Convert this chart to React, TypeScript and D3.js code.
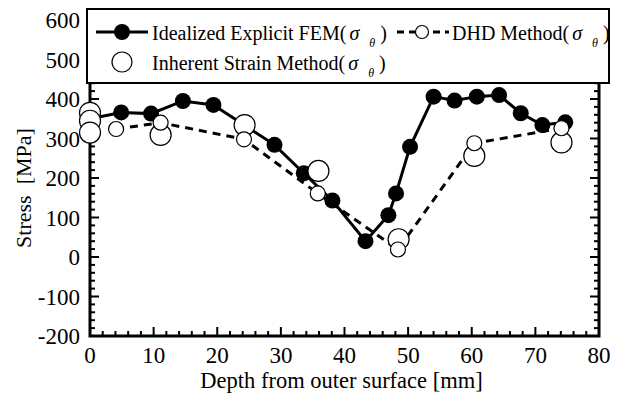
import * as d3 from 'd3';

// Idealized Explicit FEM (filled circles, solid line)
const femDepth = [0, 4.9, 9.6, 14.6, 19.4, 29.0, 33.6, 38.1, 43.3, 46.9, 48.1, 50.3, 54.0, 57.3, 60.8, 64.3, 67.7, 71.1, 74.7];
const femStress = [350, 366, 363, 395, 385, 284, 212, 143, 40, 106, 161, 279, 406, 396, 406, 410, 364, 334, 341];

// DHD method (small open circles, dashed line)
const dhdDepth = [4.1, 11.1, 24.2, 35.8, 48.4, 60.4, 74.1];
const dhdStress = [324, 340, 298, 161, 19, 288, 326];

// Inherent strain method (large open circles)
const isDepth = [0, 0, 0, 11.1, 24.3, 35.9, 48.5, 60.4, 74.1];
const isStress = [365, 345, 315, 309, 334, 218, 45, 256, 290];

const xTicks = [0, 10, 20, 30, 40, 50, 60, 70, 80];
const yTicks = [-200, -100, 0, 100, 200, 300, 400, 500, 600];

const W = 621;
const H = 394;
const left = 90, right = 599, top = 20, bottom = 336;
const serif = { fontFamily: "'Liberation Serif', 'DejaVu Serif', serif" };

const App = () => {
  const x = d3.scaleLinear().domain([0, 80]).range([left, right]);
  const y = d3.scaleLinear().domain([-200, 600]).range([bottom, top]);

  const fem = femDepth.map((d, i) => [d, femStress[i]] as [number, number]);
  const dhd = dhdDepth.map((d, i) => [d, dhdStress[i]] as [number, number]);
  const inh = isDepth.map((d, i) => [d, isStress[i]] as [number, number]);

  const line = d3.line<[number, number]>().x(d => x(d[0])).y(d => y(d[1]));

  const xMinor = d3.range(0, 80.01, 2);
  const yMinor = d3.range(-200, 600.01, 20);

  // label( σ_θ )
  const sub = (label: string) => (
    <>
      {label}
      <tspan dx={3} fontStyle="italic">σ</tspan>
      <tspan dx={10} dy={7} fontSize={12} fontStyle="italic">θ</tspan>
      <tspan dx={5} dy={-7}>)</tspan>
    </>
  );

  return (
    <svg width={W} height={H} style={{ position: 'absolute', left: 0, top: 0, background: '#fff' }}>
      {/* frame ticks */}
      <g stroke="#000" strokeWidth={2}>
        {xMinor.map(t => {
          const major = t % 10 === 0;
          const len = major ? 9 : 5;
          return (
            <g key={'x' + t}>
              <line x1={x(t)} x2={x(t)} y1={bottom} y2={bottom - len} />
              <line x1={x(t)} x2={x(t)} y1={top} y2={top + len} />
            </g>
          );
        })}
        {yMinor.map(t => {
          const major = t % 100 === 0;
          const len = major ? 9 : 5;
          return (
            <g key={'y' + t}>
              <line y1={y(t)} y2={y(t)} x1={left} x2={left + len} />
              <line y1={y(t)} y2={y(t)} x1={right} x2={right - len} />
            </g>
          );
        })}
      </g>
      <rect x={left} y={top} width={right - left} height={bottom - top} fill="none" stroke="#000" strokeWidth={3} />

      {/* tick labels */}
      <g fontSize={23} fill="#000">
        {xTicks.map(t => (
          <text key={t} style={serif} x={x(t)} y={bottom + 27} textAnchor="middle">{t}</text>
        ))}
        {yTicks.map(t => (
          <text key={t} style={serif} x={left - 10} y={y(t) + 8} textAnchor="end">{t}</text>
        ))}
      </g>
      <text style={serif} x={(left + right) / 2 - 3} y={388} textAnchor="middle" fontSize={22.5}>Depth from outer surface [mm]</text>
      <text style={serif} transform={`translate(31,${(top + bottom) / 2 + 10}) rotate(-90)`} textAnchor="middle" fontSize={22}>
        {'Stress\u00a0 [MPa]'}
      </text>

      {/* series */}
      <path d={line(fem) ?? ''} fill="none" stroke="#000" strokeWidth={3} />
      <path d={line(dhd) ?? ''} fill="none" stroke="#000" strokeWidth={3} strokeDasharray="8,6" />
      {fem.map((d, i) => (
        <circle key={'f' + i} cx={x(d[0])} cy={y(d[1])} r={8} fill="#000" />
      ))}
      {inh.map((d, i) => (
        <circle key={'i' + i} cx={x(d[0])} cy={y(d[1])} r={10.5} fill="#fff" stroke="#000" strokeWidth={1.2} />
      ))}
      {dhd.map((d, i) => (
        <circle key={'d' + i} cx={x(d[0])} cy={y(d[1])} r={7.5} fill="#fff" stroke="#000" strokeWidth={1.2} />
      ))}

      {/* legend */}
      <rect x={87} y={9} width={522} height={74} fill="#fff" stroke="#000" strokeWidth={2} />
      <line x1={96} x2={148} y1={32} y2={32} stroke="#000" strokeWidth={3} />
      <circle cx={122} cy={32} r={8} fill="#000" />
      <text style={serif} x={152} y={40} fontSize={20}>{sub('Idealized Explicit FEM(')}</text>
      <line x1={397} x2={449} y1={32} y2={32} stroke="#000" strokeWidth={3} strokeDasharray="7,5" />
      <circle cx={422} cy={32} r={6.5} fill="#fff" stroke="#000" strokeWidth={1.2} />
      <text style={serif} x={452} y={40} fontSize={20}>{sub('DHD Method(')}</text>
      <circle cx={122} cy={62} r={10} fill="#fff" stroke="#000" strokeWidth={1.2} />
      <text style={serif} x={152} y={70} fontSize={20}>{sub('Inherent Strain Method(')}</text>
    </svg>
  );
};

export default App;
